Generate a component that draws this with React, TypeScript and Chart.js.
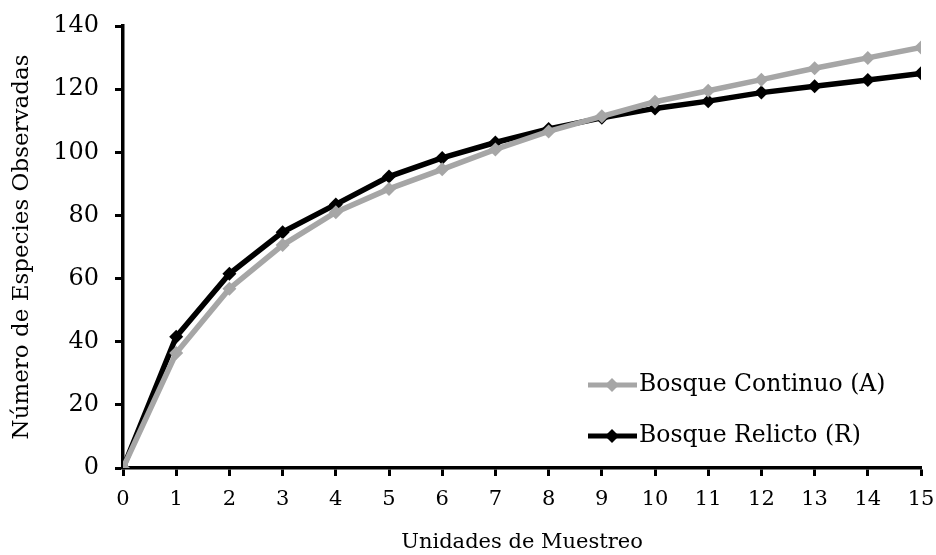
import React, { useEffect, useRef } from "react";
import { Chart, registerables } from "chart.js";

Chart.register(...registerables);

const units = [0, 1, 2, 3, 4, 5, 6, 7, 8, 9, 10, 11, 12, 13, 14, 15];
const continuoA = [0, 36.4, 56.8, 70.6, 81.0, 88.4, 94.6, 100.9, 106.6, 111.4, 116.0, 119.5, 123.0, 126.6, 129.9, 133.2];
const relictoR = [0, 41.6, 61.5, 74.7, 83.5, 92.3, 98.2, 103.1, 107.4, 110.9, 113.9, 116.2, 118.9, 120.9, 122.9, 125.0];
const seriesNames = ["Bosque Continuo (A)", "Bosque Relicto (R)"];
const xTitle = "Unidades de Muestreo";
const yTitle = "Número de Especies Observadas";

const FONT = "'DejaVu Serif', serif";
const GREY = "#A6A6A6";
const BLACK = "#000000";

const legendPlugin = {
  id: "insideLegend",
  afterDraw(chart: any) {
    const ctx = chart.ctx;
    const rows = [
      { y: 385, ds: chart.data.datasets[0] },
      { y: 436, ds: chart.data.datasets[1] },
    ];
    ctx.save();
    rows.forEach((r) => {
      const color = r.ds.borderColor;
      ctx.strokeStyle = color;
      ctx.lineWidth = 5;
      ctx.beginPath();
      ctx.moveTo(588, r.y);
      ctx.lineTo(637, r.y);
      ctx.stroke();
      ctx.fillStyle = color;
      ctx.beginPath();
      const cx = 612, s = 7;
      ctx.moveTo(cx, r.y - s);
      ctx.lineTo(cx + s, r.y);
      ctx.lineTo(cx, r.y + s);
      ctx.lineTo(cx - s, r.y);
      ctx.closePath();
      ctx.fill();
      ctx.fillStyle = "#000";
      ctx.font = `23.5px ${FONT}`;
      ctx.textBaseline = "middle";
      ctx.textAlign = "left";
      ctx.fillText(r.ds.label, 639, r.y);
    });
    ctx.restore();
  },
};

export default function App() {
  const ref = useRef<HTMLCanvasElement>(null);
  useEffect(() => {
    document.body.style.margin = "0";
    const toPts = (arr: number[]) => units.map((x, i) => ({ x, y: arr[i] }));
    const chart = new Chart(ref.current!, {
      type: "line",
      data: {
        datasets: [
          {
            label: seriesNames[0],
            data: toPts(continuoA),
            borderColor: GREY,
            backgroundColor: GREY,
            borderWidth: 5.5,
            pointStyle: "rectRot",
            pointRadius: 7,
            pointBorderWidth: 0,
            tension: 0,
          },
          {
            label: seriesNames[1],
            data: toPts(relictoR),
            borderColor: BLACK,
            backgroundColor: BLACK,
            borderWidth: 5.5,
            pointStyle: "rectRot",
            pointRadius: 7,
            pointBorderWidth: 0,
            tension: 0,
          },
        ],
      },
      options: {
        animation: false,
        responsive: false,
        maintainAspectRatio: false,
        layout: { padding: { top: 26, right: 15, left: 0, bottom: 0 } },
        plugins: {
          legend: { display: false },
          tooltip: { enabled: false },
        },
        scales: {
          x: {
            type: "linear",
            min: 0,
            max: 15,
            afterFit: (s: any) => {
              s.height = 87;
              s.paddingRight = 0;
              s.paddingLeft = 0;
            },
            ticks: {
              stepSize: 1,
              color: "#000",
              font: { family: FONT, size: 21 },
              padding: 11,
              maxRotation: 0,
            },
            grid: {
              drawOnChartArea: false,
              drawTicks: true,
              tickLength: 8,
              tickColor: "#000",
              tickWidth: 3,
            },
            border: { color: "#000", width: 3.5 },
            title: {
              display: true,
              text: xTitle,
              color: "#000",
              font: { family: FONT, size: 21 },
              padding: { top: 10, bottom: 0 },
            },
          },
          y: {
            min: 0,
            max: 140,
            afterFit: (s: any) => {
              s.width = 123;
              s.paddingTop = 0;
              s.paddingBottom = 0;
            },
            ticks: {
              stepSize: 20,
              color: "#000",
              font: { family: FONT, size: 24 },
              padding: 16,
            },
            grid: {
              drawOnChartArea: false,
              drawTicks: true,
              tickLength: 8,
              tickColor: "#000",
              tickWidth: 3,
            },
            border: { color: "#000", width: 3.5 },
            title: {
              display: true,
              text: yTitle,
              color: "#000",
              font: { family: FONT, size: 23 },
              padding: { top: 8, bottom: 0 },
            },
          },
        },
      },
      plugins: [legendPlugin],
    } as any);
    return () => chart.destroy();
  }, []);
  return (
    <div style={{ width: 936, height: 555, background: "#fff" }}>
      <canvas ref={ref} width={936} height={555} style={{ width: 936, height: 555 }} />
    </div>
  );
}
